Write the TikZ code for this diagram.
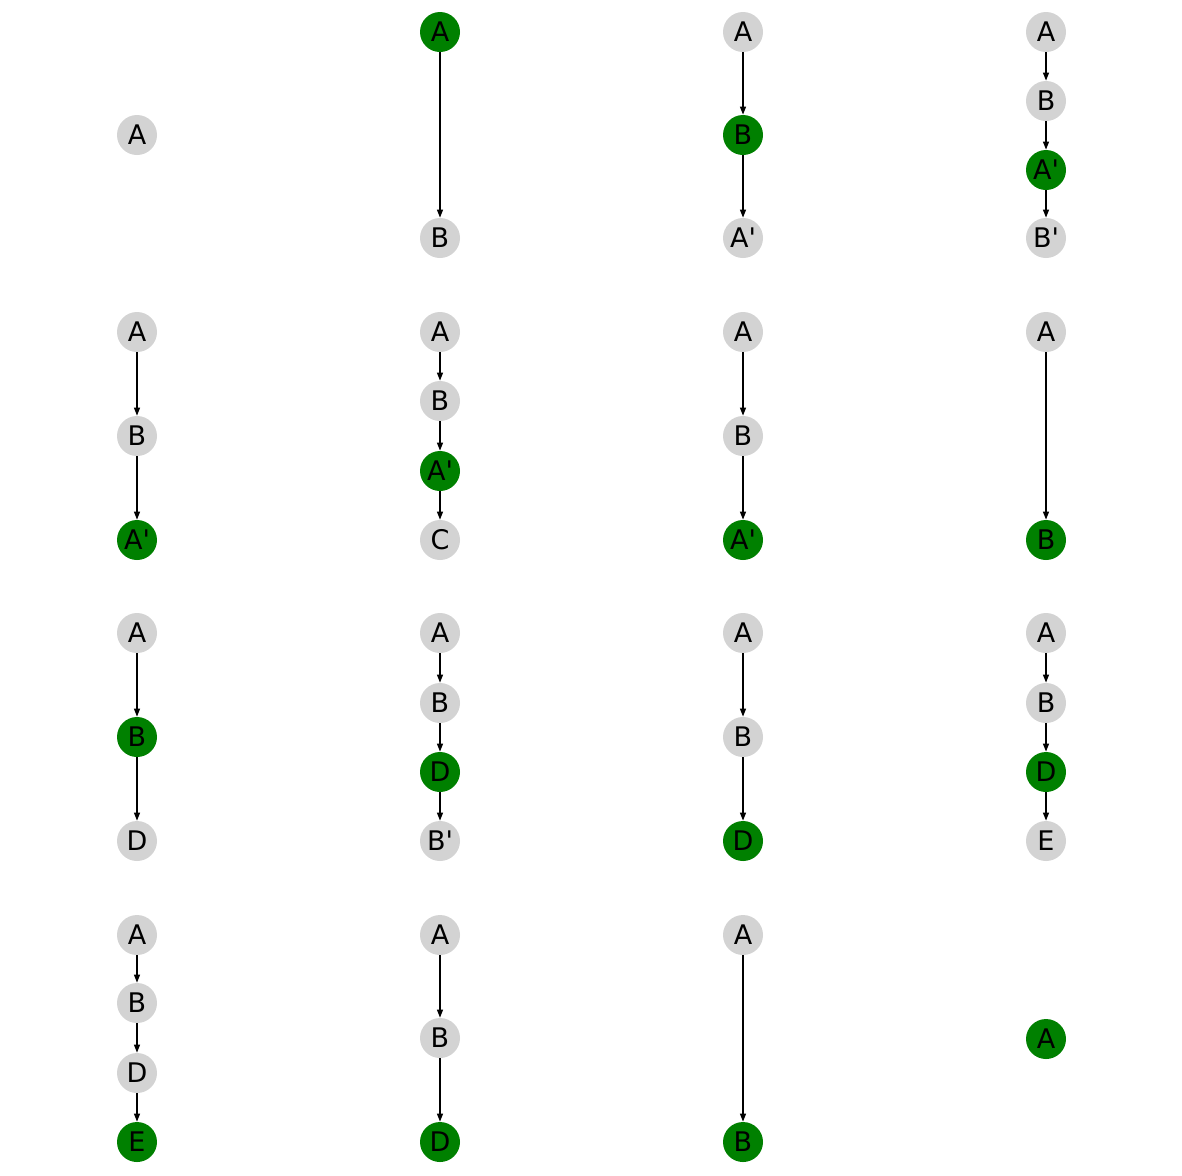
\documentclass[tikz,border=0pt]{standalone}
\usepackage{fontspec}
\setmainfont{DejaVu Sans}[Ligatures=TeXReset]
\usepackage{xcolor}
\usepackage{tikz}
\usetikzlibrary{arrows.meta}
\definecolor{gvGrey}{HTML}{D3D3D3}
\definecolor{gvGreen}{HTML}{008000}
\tikzset{
  gv diagram/.style={x=0.5pt, y=-0.5pt, font=\fontsize{13.5pt}{15pt}\selectfont},
  gv node/.style={circle, fill=gvGrey, draw=none, minimum size=20pt, inner sep=0pt},
  gv pick/.style={gv node, fill=gvGreen},
  gv arrow/.style={-{Triangle[length=4pt,width=3pt]}, draw=black, line width=0.6pt}
}
\begin{document}
\begin{tikzpicture}[gv diagram]
\useasboundingbox[fill=white] (0,0) rectangle (1182,1175);
% row 1
\node[gv node] (aA) at (137,135) {A};
\node[gv pick] (bA) at (440,32) {A};
\node[gv node] (bB) at (440,238) {B};
\draw[gv arrow] (bA) -- (bB);
\node[gv node] (cA) at (743,32) {A};
\node[gv pick] (cB) at (743,135) {B};
\node[gv node] (cA2) at (743,238) {A\textquotesingle};
\draw[gv arrow] (cA) -- (cB);
\draw[gv arrow] (cB) -- (cA2);
\node[gv node] (dA) at (1046,32) {A};
\node[gv node] (dB) at (1046,101) {B};
\node[gv pick] (dA2) at (1046,170) {A\textquotesingle};
\node[gv node] (dB2) at (1046,238) {B\textquotesingle};
\draw[gv arrow] (dA) -- (dB);
\draw[gv arrow] (dB) -- (dA2);
\draw[gv arrow] (dA2) -- (dB2);
% row 2
\node[gv node] (eA) at (137,332) {A};
\node[gv node] (eB) at (137,436) {B};
\node[gv pick] (eA2) at (137,540) {A\textquotesingle};
\draw[gv arrow] (eA) -- (eB);
\draw[gv arrow] (eB) -- (eA2);
\node[gv node] (fA) at (440,332) {A};
\node[gv node] (fB) at (440,401) {B};
\node[gv pick] (fA2) at (440,471) {A\textquotesingle};
\node[gv node] (fC) at (440,540) {C};
\draw[gv arrow] (fA) -- (fB);
\draw[gv arrow] (fB) -- (fA2);
\draw[gv arrow] (fA2) -- (fC);
\node[gv node] (gA) at (743,332) {A};
\node[gv node] (gB) at (743,436) {B};
\node[gv pick] (gA2) at (743,540) {A\textquotesingle};
\draw[gv arrow] (gA) -- (gB);
\draw[gv arrow] (gB) -- (gA2);
\node[gv node] (hA) at (1046,332) {A};
\node[gv pick] (hB) at (1046,540) {B};
\draw[gv arrow] (hA) -- (hB);
% row 3
\node[gv node] (iA) at (137,633) {A};
\node[gv pick] (iB) at (137,737) {B};
\node[gv node] (iD) at (137,841) {D};
\draw[gv arrow] (iA) -- (iB);
\draw[gv arrow] (iB) -- (iD);
\node[gv node] (jA) at (440,633) {A};
\node[gv node] (jB) at (440,703) {B};
\node[gv pick] (jD) at (440,772) {D};
\node[gv node] (jB2) at (440,841) {B\textquotesingle};
\draw[gv arrow] (jA) -- (jB);
\draw[gv arrow] (jB) -- (jD);
\draw[gv arrow] (jD) -- (jB2);
\node[gv node] (kA) at (743,633) {A};
\node[gv node] (kB) at (743,737) {B};
\node[gv pick] (kD) at (743,841) {D};
\draw[gv arrow] (kA) -- (kB);
\draw[gv arrow] (kB) -- (kD);
\node[gv node] (lA) at (1046,633) {A};
\node[gv node] (lB) at (1046,703) {B};
\node[gv pick] (lD) at (1046,772) {D};
\node[gv node] (lE) at (1046,841) {E};
\draw[gv arrow] (lA) -- (lB);
\draw[gv arrow] (lB) -- (lD);
\draw[gv arrow] (lD) -- (lE);
% row 4
\node[gv node] (mA) at (137,935) {A};
\node[gv node] (mB) at (137,1003) {B};
\node[gv node] (mD) at (137,1073) {D};
\node[gv pick] (mE) at (137,1142) {E};
\draw[gv arrow] (mA) -- (mB);
\draw[gv arrow] (mB) -- (mD);
\draw[gv arrow] (mD) -- (mE);
\node[gv node] (nA) at (440,935) {A};
\node[gv node] (nB) at (440,1038) {B};
\node[gv pick] (nD) at (440,1142) {D};
\draw[gv arrow] (nA) -- (nB);
\draw[gv arrow] (nB) -- (nD);
\node[gv node] (oA) at (743,935) {A};
\node[gv pick] (oB) at (743,1142) {B};
\draw[gv arrow] (oA) -- (oB);
\node[gv pick] (pA) at (1046,1039) {A};
\end{tikzpicture}
\end{document}
